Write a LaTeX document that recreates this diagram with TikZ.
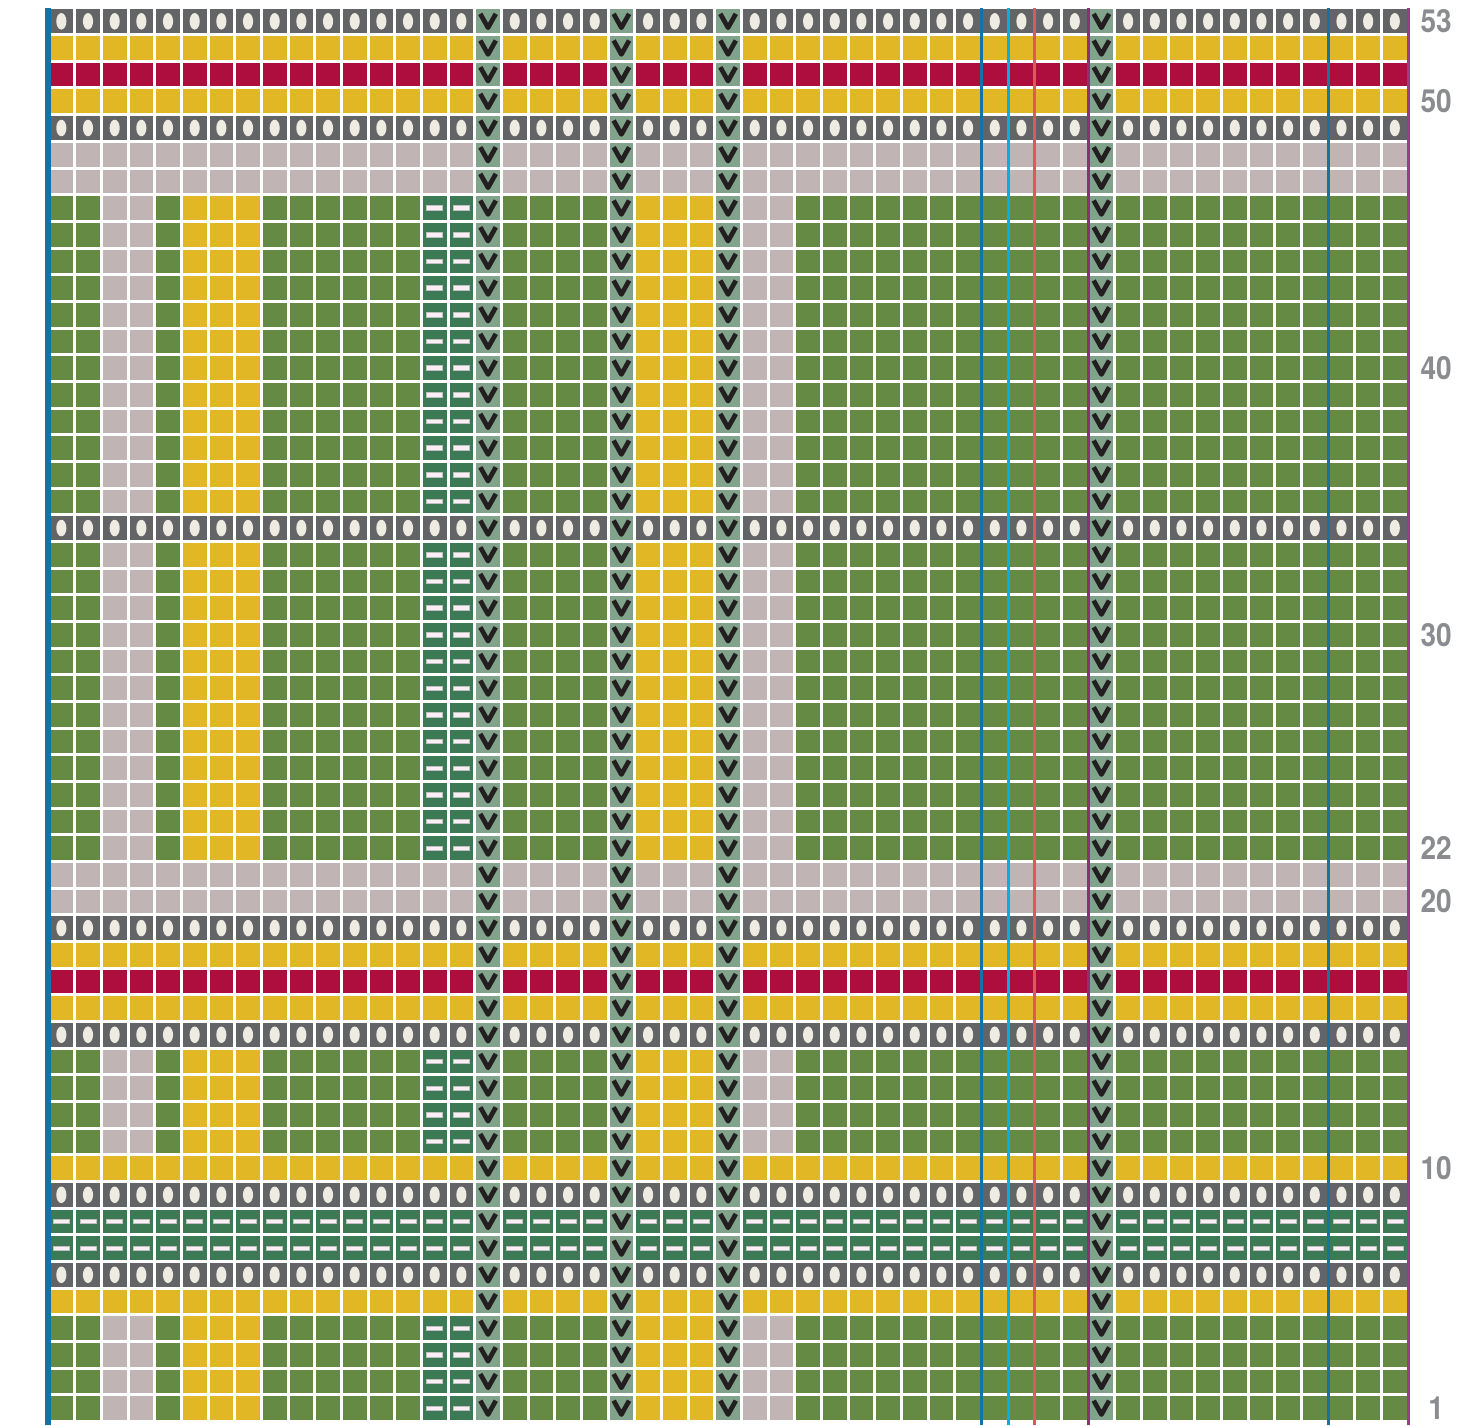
\documentclass[tikz,border=0pt]{standalone}
\usepackage{fontspec}
\newfontfamily\rowfont[FakeStretch=0.88]{TeX Gyre Heros}
\usepackage{xcolor}
\usetikzlibrary{positioning}
\definecolor{moss}{RGB}{101,138,68}
\definecolor{lavender}{RGB}{193,180,181}
\definecolor{mustard}{RGB}{225,183,38}
\definecolor{crimson}{RGB}{174,14,62}
\definecolor{eyegray}{RGB}{99,100,102}
\definecolor{cream}{RGB}{238,235,226}
\definecolor{purlgreen}{RGB}{59,122,85}
\definecolor{dashpink}{RGB}{251,238,244}
\definecolor{slipgreen}{RGB}{130,163,139}
\definecolor{vblack}{RGB}{35,31,32}
\definecolor{lineblue}{RGB}{20,115,165}
\definecolor{linecyan}{RGB}{0,174,232}
\definecolor{linered}{RGB}{224,88,92}
\definecolor{lineplum}{RGB}{146,45,110}
\definecolor{linemagenta}{RGB}{162,58,131}
\definecolor{numgray}{RGB}{139,140,143}

\begin{document}
\begin{tikzpicture}[x=0.5cm, y=0.5cm,
    purldash/.style={fill=dashpink, draw=black!25, line width=0.3pt},
    vmark/.style={vblack, line width=2.5pt, line join=round},
    rownum/.style={numgray, font=\rowfont\bfseries\fontsize{17}{17}\selectfont}]
  \useasboundingbox (-1.8,-0.15) rectangle (52.87,53.3);
  % plain stripe rows
  \foreach \r/\col in {5/mustard,10/mustard,16/mustard,18/mustard,50/mustard,52/mustard,
                       17/crimson,51/crimson,20/lavender,21/lavender,47/lavender,48/lavender,
                       6/eyegray,9/eyegray,15/eyegray,19/eyegray,34/eyegray,49/eyegray,53/eyegray,
                       7/purlgreen,8/purlgreen}
    \fill[\col] (0,\r-1) rectangle (51,\r);
  % plaid blocks with their vertical stripes
  \foreach \a/\b in {0/4,10/14,21/33,34/46} {
    \fill[moss] (0,\a) rectangle (51,\b);
    \foreach \x/\w/\col in {2/2/lavender,5/3/mustard,14/2/purlgreen,22/3/mustard,26/2/lavender}
      \fill[\col] (\x,\a) rectangle (\x+\w,\b);
  }
  % eyelet rows
  \foreach \r in {6,9,15,19,34,49,53}
    \foreach \c in {1,...,51}
      \fill[cream] (\c-0.5,\r-0.5) ellipse (0.19 and 0.31);
  % purl rows and purl columns
  \foreach \r in {7,8}
    \foreach \c in {1,...,51}
      \filldraw[purldash] (\c-0.8,\r-0.585) rectangle (\c-0.2,\r-0.415);
  \foreach \a/\b in {1/4,11/14,22/33,35/46}
    \foreach \r in {\a,...,\b}
      \foreach \c in {15,16}
        \filldraw[purldash] (\c-0.8,\r-0.585) rectangle (\c-0.2,\r-0.415);
  % slipped columns
  \foreach \c in {17,22,26,40}
    \fill[slipgreen] (\c-1,0) rectangle (\c,53);
  % cell grid
  \foreach \x in {0,...,51}
    \draw[white, line width=1.6pt] (\x,0) -- (\x,53);
  \foreach \y in {0,...,53}
    \draw[white, line width=1.6pt] (0,\y) -- (51,\y);
  \foreach \c in {17,22,26,40}
    \foreach \r in {1,...,53}
      \draw[vmark] (\c-0.79,\r-0.22) -- (\c-0.5,\r-0.74) -- (\c-0.21,\r-0.22);
  % repeat lines
  \draw[lineblue, line width=2.7pt] (0,-0.15) -- (0,53);
  \foreach \x/\col in {35/lineblue,36/linecyan,37/linered,39/lineplum,48/lineblue,51/linemagenta}
    \draw[\col, line width=1.6pt] (\x,-0.15) -- (\x,53);
  % row numbers
  \foreach \r in {1,10,20,22,30,40,50,53}
    \node[rownum] (num\r) at (52.05,\r-0.5) {\r};
\end{tikzpicture}
\end{document}
